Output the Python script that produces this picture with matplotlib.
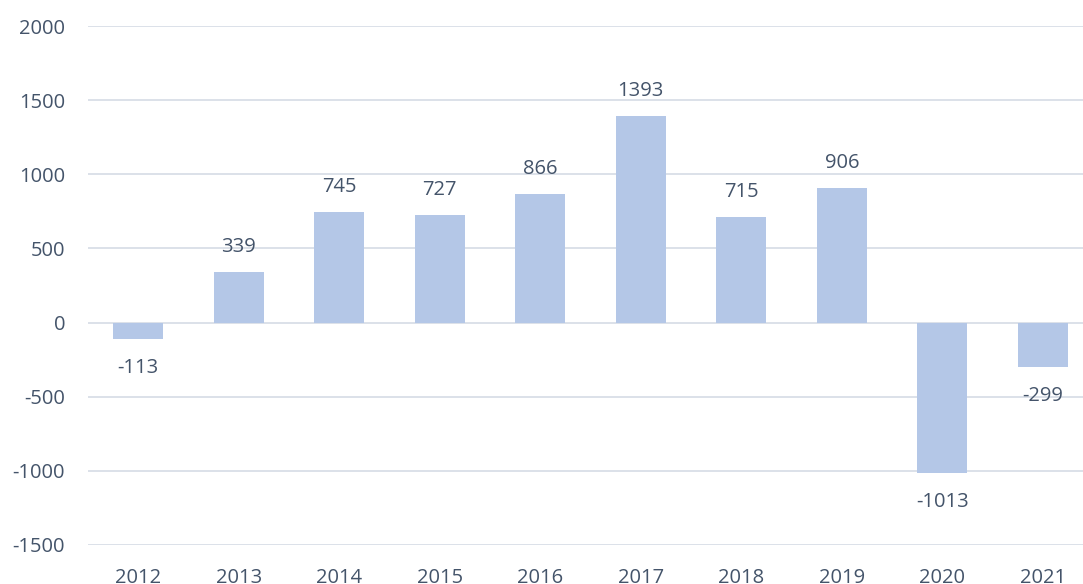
import matplotlib
matplotlib.use("Agg")
import matplotlib.pyplot as plt

years = ["2012", "2013", "2014", "2015", "2016", "2017", "2018", "2019", "2020", "2021"]
values = [-113, 339, 745, 727, 866, 1393, 715, 906, -1013, -299]
yticks = [-1500, -1000, -500, 0, 500, 1000, 1500, 2000]

TEXT = "#44546A"
BAR = "#B4C7E7"
GRID = "#D9DEE7"

plt.rcParams["font.family"] = ["Open Sans", "DejaVu Sans"]

W, H = 1083, 584
fig = plt.figure(figsize=(W / 100, H / 100), dpi=100)
left, right = 88, 1093
top, bottom = 26, 545
ax = fig.add_axes([left / W, 1 - bottom / H, (right - left) / W, (bottom - top) / H])

x = list(range(len(years)))
ax.bar(x, values, width=0.5, color=BAR, zorder=3)

ax.set_xlim(-0.5, len(years) - 0.5)
ax.set_ylim(-1500, 2000)
ax.set_yticks(yticks)
ax.set_yticklabels([str(t) for t in yticks])
ax.set_xticks(x)
ax.set_xticklabels(years)

for yv in yticks:
    ax.axhline(yv, color=GRID, lw=1.3, zorder=1)

for s in ax.spines.values():
    s.set_visible(False)
ax.tick_params(axis="both", length=0, colors=TEXT, labelsize=14.5)
ax.tick_params(axis="y", pad=16.5)
ax.tick_params(axis="x", pad=16.5)

for xi, v in zip(x, values):
    off = 18 if v >= 0 else -21
    ax.annotate(str(v), (xi, v), xytext=(0, off), textcoords="offset points",
                ha="center", va="center", fontsize=14.5, color=TEXT)

fig.savefig("out.png", dpi=100)
